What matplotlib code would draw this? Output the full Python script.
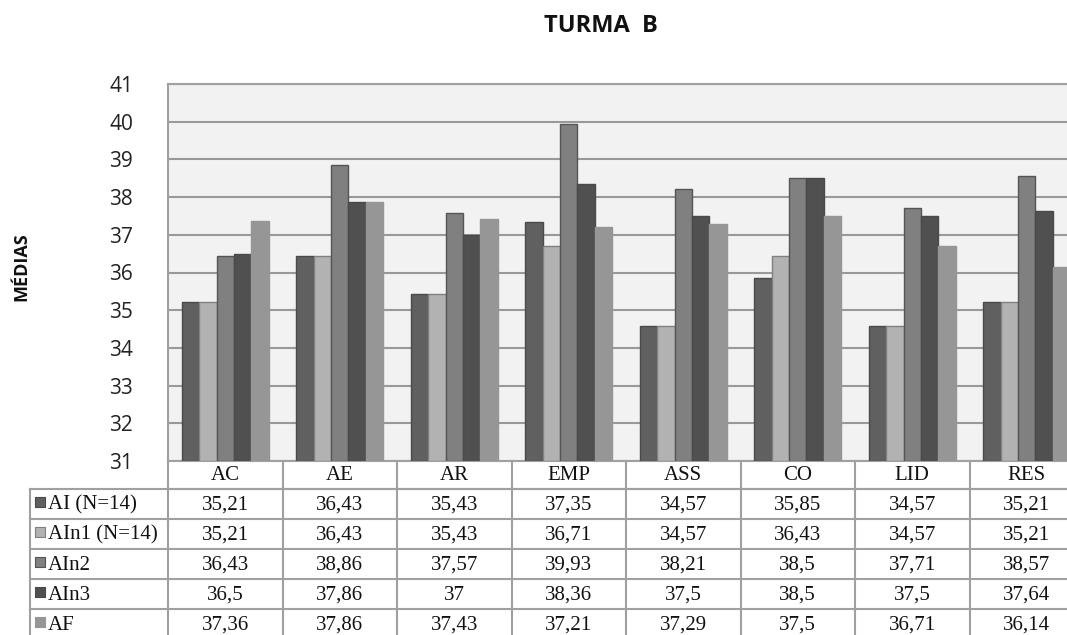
import matplotlib.pyplot as plt
import numpy as np

categories = ['AC', 'AE', 'AR', 'EMP', 'ASS', 'CO', 'LID', 'RES']
series_names = ['AI (N=14)', 'AIn1 (N=14)', 'AIn2', 'AIn3', 'AF']
ai = [35.21, 36.43, 35.43, 37.35, 34.57, 35.85, 34.57, 35.21]
ain1 = [35.21, 36.43, 35.43, 36.71, 34.57, 36.43, 34.57, 35.21]
ain2 = [36.43, 38.86, 37.57, 39.93, 38.21, 38.5, 37.71, 38.57]
ain3 = [36.5, 37.86, 37, 38.36, 37.5, 38.5, 37.5, 37.64]
af = [37.36, 37.86, 37.43, 37.21, 37.29, 37.5, 36.71, 36.14]
series = [ai, ain1, ain2, ain3, af]

colors = ['#606060', '#b2b2b2', '#808080', '#505050', '#969696']
edges = ['#4a4a4a', '#808080', '#555555', '#4a4a4a', '#969696']

W, H = 1067, 635
fig = plt.figure(figsize=(W / 100, H / 100), dpi=100)

# plot area in pixels (extends past right edge, like the reference)
left, right, top, bottom = 168, 1084, 84, 461
ax = fig.add_axes([left / W, (H - bottom) / H, (right - left) / W, (bottom - top) / H])
ax.set_facecolor('#f2f2f2')

x = np.arange(len(categories))
bw = 0.152
for i, vals in enumerate(series):
    vals = np.array(vals)
    ax.bar(x + (i - 2) * bw, vals - 31, bw, bottom=31, color=colors[i],
           edgecolor=edges[i], linewidth=1, zorder=3)

ax.set_xlim(-0.5, len(categories) - 0.5)
ax.set_ylim(31, 41)
ax.set_yticks(range(31, 42))
ax.yaxis.grid(True, color='#999999', linewidth=1.5, zorder=0)
ax.set_xticks([])
ax.tick_params(axis='y', length=0, pad=25, labelsize=15, labelcolor='#222222')
for lbl in ax.get_yticklabels():
    lbl.set_family('Open Sans')
for s in ax.spines.values():
    s.set_color('#a0a0a0')
    s.set_linewidth(1.5)

# data table below the plot
tr = ax.get_xaxis_transform()
ph = bottom - top
def ya(px):
    # pixels below the plot bottom -> axes y
    return -px / ph

lc = '#a0a0a0'
lw = 1.5
xl = -0.5 - (left - 30) / ((right - left) / len(categories))
xr = len(categories) - 0.5
head = 28
rowh = 30
serif = 'Liberation Serif'
fs = 15

# header row
ax.plot([-0.5, xr], [ya(head), ya(head)], color=lc, lw=lw, transform=tr, clip_on=False)
for k in range(len(categories) + 1):
    ax.plot([k - 0.5, k - 0.5], [0, ya(head + rowh * 5 + 10)], color=lc, lw=lw,
            transform=tr, clip_on=False)
for k, c in enumerate(categories):
    ax.text(k, ya(head / 2 + 1), c, transform=tr, ha='center', va='center',
            fontsize=fs, family=serif, color='#111111')

# series rows
ax.plot([xl, xl], [ya(head), ya(head + rowh * 5 + 10)], color=lc, lw=lw,
        transform=tr, clip_on=False)
for r in range(5):
    y0 = head + rowh * r
    ax.plot([xl, xr], [ya(y0), ya(y0)], color=lc, lw=lw, transform=tr, clip_on=False)
    yc = ya(y0 + rowh / 2 + 1)
    ax.text(xl + 0.155, yc, series_names[r], transform=tr, ha='left', va='center',
            fontsize=fs, family=serif, color='#111111')
    ax.scatter([xl + 0.09], [yc + 3 / ph], s=60, marker='s', color=colors[r],
               edgecolor=edges[r], linewidth=0.8, transform=tr, clip_on=False, zorder=5)
    for k, v in enumerate(series[r]):
        ax.text(k, yc, f'{v:g}'.replace('.', ','), transform=tr, ha='center',
                va='center', fontsize=fs, family=serif, color='#111111')

fig.text(601 / W, 1 - 26 / H, 'TURMA  B', ha='center', va='center', fontsize=17,
         fontweight='bold', family='Open Sans', color='#111111')
fig.text(21 / W, 1 - 267 / H, 'MÉDIAS', ha='center', va='center', rotation=90,
         fontsize=13, fontweight='bold', family='Open Sans', color='#111111')

fig.savefig('out.png', dpi=100)
